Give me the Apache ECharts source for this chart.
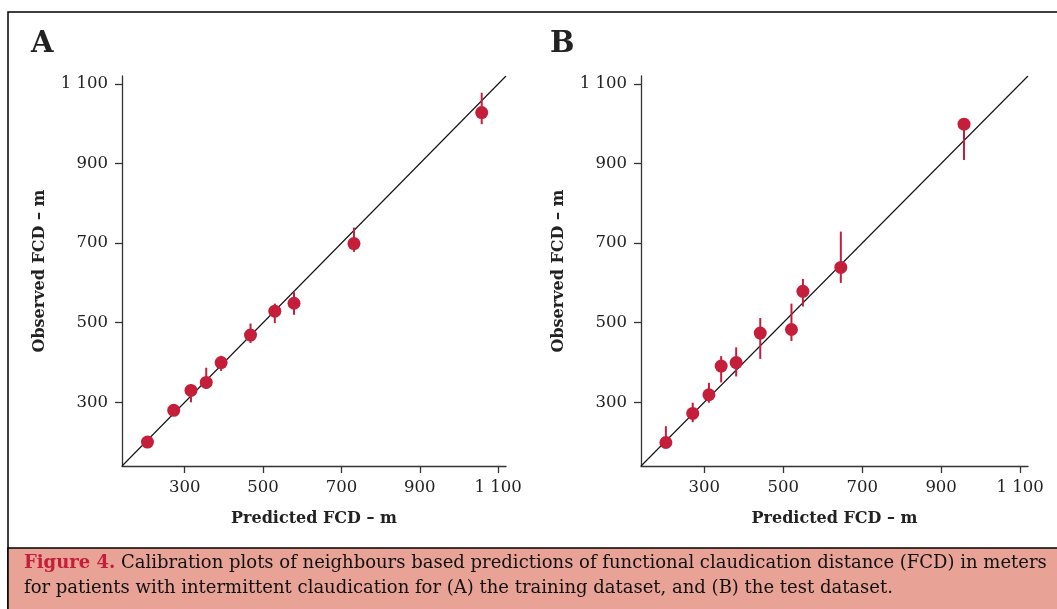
<!DOCTYPE html>
<html>
<head>
<meta charset="utf-8">
<script src="https://cdn.jsdelivr.net/npm/echarts@6/dist/echarts.min.js"></script>
<style>
html,body{margin:0;padding:0;background:#fff;}
#c{width:1057px;height:609px;}
</style>
</head>
<body>
<div id="c"></div>
<script>
// Tick labels shown on both axes
const tickValues = [300, 500, 700, 900, 1100];
const axisRange = [140, 1120];

// Panel A: training dataset [predicted, observed]
const trainPredicted = [205, 272, 316, 355, 393, 468, 530, 579, 732, 1058];
const trainObserved  = [200, 280, 330, 350, 400, 469, 529, 549, 699, 1028];
const trainLow       = [193, 268, 300, 334, 379, 449, 499, 520, 678, 999];
const trainHigh      = [207, 292, 345, 387, 417, 498, 548, 577, 739, 1078];

// Panel B: test dataset
const testPredicted = [203, 271, 312, 343, 381, 442, 521, 550, 646, 958];
const testObserved  = [199, 272, 319, 391, 400, 474, 483, 579, 639, 999];
const testLow       = [190, 250, 299, 350, 365, 409, 454, 541, 600, 909];
const testHigh      = [240, 299, 349, 416, 438, 512, 548, 610, 729, 1002];

const red = '#C41E3A';
const serif = 'DejaVu Serif';

function pts(x, y) { return x.map((v, i) => [v, y[i]]); }
function bars(x, lo, hi) { return x.map((v, i) => [v, lo[i], hi[i]]); }

function fmt(v) {
  const s = String(v);
  return s.length > 3 ? s.slice(0, s.length - 3) + ' ' + s.slice(-3) : s;
}

function xAx(gi) {
  return {
    gridIndex: gi, type: 'value', min: axisRange[0], max: axisRange[1],
    name: 'Predicted FCD – m', nameLocation: 'middle', nameGap: 45,
    nameTextStyle: { fontFamily: serif, fontWeight: 'bold', fontSize: 16, color: '#222' },
    axisLine: { show: true, lineStyle: { color: '#333', width: 1.3 } },
    axisTick: { show: true, length: 7, customValues: tickValues, lineStyle: { color: '#333', width: 1.3 } },
    axisLabel: { customValues: tickValues, formatter: fmt, margin: 13, fontFamily: serif, fontSize: 16.5, color: '#222' },
    splitLine: { show: false }
  };
}
function yAx(gi) {
  return {
    gridIndex: gi, type: 'value', min: axisRange[0], max: axisRange[1],
    name: 'Observed FCD – m', nameLocation: 'middle', nameGap: 74,
    nameTextStyle: { fontFamily: serif, fontWeight: 'bold', fontSize: 16, color: '#222' },
    axisLine: { show: true, lineStyle: { color: '#333', width: 1.3 } },
    axisTick: { show: true, length: 7, customValues: tickValues, lineStyle: { color: '#333', width: 1.3 } },
    axisLabel: { customValues: tickValues, formatter: fmt, margin: 14, fontFamily: serif, fontSize: 16.5, color: '#222' },
    splitLine: { show: false }
  };
}

function errSeries(gi, data) {
  return {
    type: 'custom', xAxisIndex: gi, yAxisIndex: gi, data: data, z: 2,
    renderItem: function (params, api) {
      const a = api.coord([api.value(0), api.value(1)]);
      const b = api.coord([api.value(0), api.value(2)]);
      return { type: 'line', shape: { x1: a[0], y1: a[1], x2: b[0], y2: b[1] },
               style: { stroke: red, lineWidth: 2 } };
    }
  };
}
function diag(gi) {
  return {
    type: 'line', xAxisIndex: gi, yAxisIndex: gi, data: [[axisRange[0], axisRange[0]], [axisRange[1], axisRange[1]]],
    symbol: 'none', lineStyle: { color: '#111', width: 1.1 }, z: 1, silent: true
  };
}
function scat(gi, data) {
  return { type: 'scatter', xAxisIndex: gi, yAxisIndex: gi, data: data, symbolSize: 13,
           itemStyle: { color: red, opacity: 1 }, z: 3 };
}

const chart = echarts.init(document.getElementById('c'));
chart.setOption({
  animation: false,
  backgroundColor: '#fff',
  grid: [
    { left: 122, top: 76, width: 384, height: 390 },
    { left: 641, top: 76, width: 387, height: 390 }
  ],
  xAxis: [xAx(0), xAx(1)],
  yAxis: [yAx(0), yAx(1)],
  graphic: [
    { type: 'rect', shape: { x: 8, y: 12, width: 1070, height: 620 }, style: { fill: 'none', stroke: '#000', lineWidth: 1.5 }, z: 0 },
    { type: 'rect', shape: { x: 8, y: 548, width: 1070, height: 80 }, style: { fill: '#E8A396', stroke: '#000', lineWidth: 1.5 }, z: 0 },
    { type: 'text', left: 31, top: 30, style: { text: 'A', font: 'bold 29px "DejaVu Serif"', fill: '#222' } },
    { type: 'text', left: 550, top: 30, style: { text: 'B', font: 'bold 29px "DejaVu Serif"', fill: '#222' } },
    { type: 'text', left: 24, top: 554, style: {
        text: '{r|Figure 4.} Calibration plots of neighbours based predictions of functional claudication distance (FCD) in meters',
        font: '18px "DejaVu Serif"', fill: '#111',
        rich: { r: { fill: red, font: 'bold 18px "DejaVu Serif"' } } } },
    { type: 'text', left: 24, top: 579, style: {
        text: 'for patients with intermittent claudication for (A) the training dataset, and (B) the test dataset.',
        font: '18px "DejaVu Serif"', fill: '#111' } }
  ],
  series: [
    diag(0), diag(1),
    errSeries(0, bars(trainPredicted, trainLow, trainHigh)),
    errSeries(1, bars(testPredicted, testLow, testHigh)),
    scat(0, pts(trainPredicted, trainObserved)),
    scat(1, pts(testPredicted, testObserved))
  ]
});
</script>
</body>
</html>
